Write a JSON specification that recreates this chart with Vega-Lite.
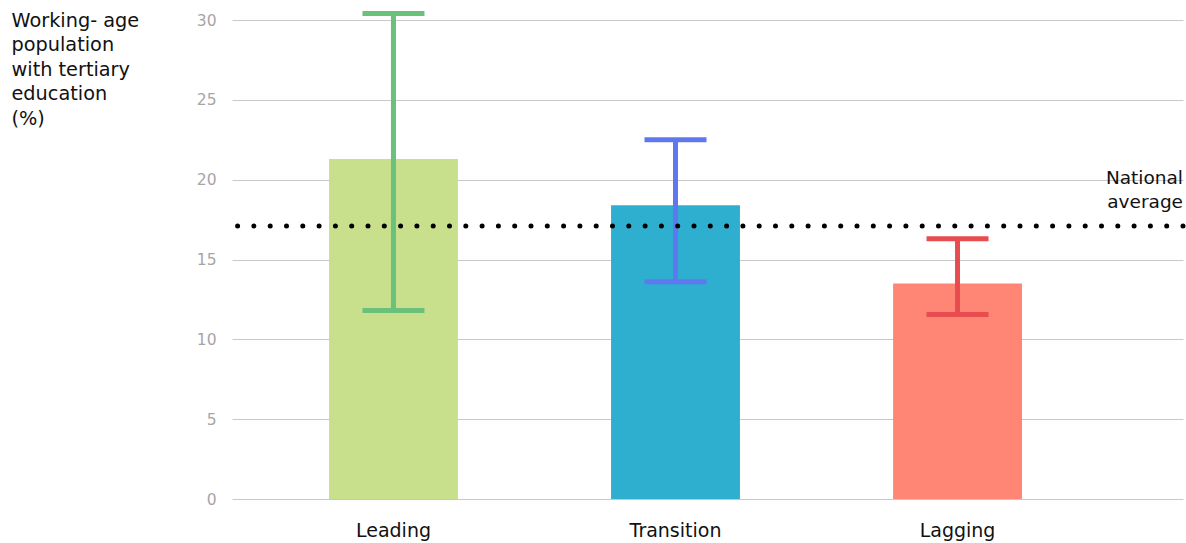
{
  "$schema": "https://vega.github.io/schema/vega-lite/v6.json",
  "width": 951,
  "height": 479,
  "autosize": {"type": "none"},
  "padding": {"left": 232, "top": 20, "right": 3, "bottom": 44},
  "background": "white",
  "config": {
    "view": {"stroke": null},
    "font": "DejaVu Sans"
  },
  "datasets": {
    "regions": [
      {"region": "Leading", "value": 21.3, "low": 11.8, "high": 30.4},
      {"region": "Transition", "value": 18.4, "low": 13.6, "high": 22.5},
      {"region": "Lagging", "value": 13.5, "low": 11.55, "high": 16.3}
    ],
    "avg": [{"label": ["National", "average"], "value": 17.1}]
  },
  "layer": [
    {
      "data": {"name": "regions"},
      "mark": {"type": "bar"},
      "encoding": {
        "x": {
          "field": "region", "type": "nominal", "sort": null,
          "scale": {"paddingInner": 0.543, "paddingOuter": 0.4575, "align": 0.376},
          "axis": {"title": null, "labelAngle": 0, "ticks": false, "domain": false, "labelFontSize": 19, "labelColor": "#111111", "labelPadding": 22, "grid": false}
        },
        "y": {
          "field": "value", "type": "quantitative",
          "scale": {"domain": [0, 30], "nice": false},
          "axis": {
            "values": [0, 5, 10, 15, 20, 25, 30],
            "ticks": false, "domain": false,
            "gridColor": "#c8c8c8", "gridWidth": 1,
            "labelColor": "#a6a6a6", "labelFontSize": 15.5, "labelPadding": 16,
            "title": ["Working- age", "population", "\u00a0with tertiary", "education", "(%)"],
            "titleAngle": 0, "titleAlign": "left", "titleBaseline": "top",
            "titleX": -221, "titleY": -9, "titleFontSize": 19.3, "titleFontWeight": "normal",
            "titleColor": "#111111", "titleLineHeight": 24.5
          }
        },
        "color": {
          "field": "region", "type": "nominal", "legend": null,
          "scale": {"domain": ["Leading", "Transition", "Lagging"], "range": ["#c8e08c", "#2eafd0", "#ff8674"]}
        }
      }
    },
    {
      "data": {"name": "regions"},
      "mark": {"type": "rule", "strokeWidth": 5},
      "encoding": {
        "x": {"field": "region", "type": "nominal", "sort": null},
        "y": {"field": "low", "type": "quantitative"},
        "y2": {"field": "high"},
        "color": {
          "field": "region", "type": "nominal", "legend": null,
          "scale": {"domain": ["Leading", "Transition", "Lagging"], "range": ["#6cc17a", "#5f78f0", "#e84c4f"]}
        }
      }
    },
    {
      "data": {"name": "regions"},
      "mark": {"type": "tick", "size": 62, "thickness": 5, "orient": "horizontal", "opacity": 1},
      "encoding": {
        "x": {"field": "region", "type": "nominal", "sort": null},
        "y": {"field": "high", "type": "quantitative"},
        "color": {
          "field": "region", "type": "nominal", "legend": null,
          "scale": {"domain": ["Leading", "Transition", "Lagging"], "range": ["#6cc17a", "#5f78f0", "#e84c4f"]}
        }
      }
    },
    {
      "data": {"name": "regions"},
      "mark": {"type": "tick", "size": 62, "thickness": 5, "orient": "horizontal", "opacity": 1},
      "encoding": {
        "x": {"field": "region", "type": "nominal", "sort": null},
        "y": {"field": "low", "type": "quantitative"},
        "color": {
          "field": "region", "type": "nominal", "legend": null,
          "scale": {"domain": ["Leading", "Transition", "Lagging"], "range": ["#6cc17a", "#5f78f0", "#e84c4f"]}
        }
      }
    },
    {
      "data": {"name": "avg"},
      "mark": {"type": "rule", "color": "#000000", "strokeWidth": 5, "strokeCap": "round", "strokeDash": [0, 16.3]},
      "encoding": {
        "y": {"field": "value", "type": "quantitative"}
      }
    },
    {
      "data": {"name": "avg"},
      "mark": {"type": "text", "align": "right", "baseline": "top", "fontSize": 18.5, "color": "#111111", "lineHeight": 24, "dy": -57, "x": {"expr": "width"}},
      "encoding": {
        "y": {"field": "value", "type": "quantitative"},
        "text": {"field": "label"}
      }
    }
  ],
  "resolve": {"scale": {"color": "independent"}}
}
